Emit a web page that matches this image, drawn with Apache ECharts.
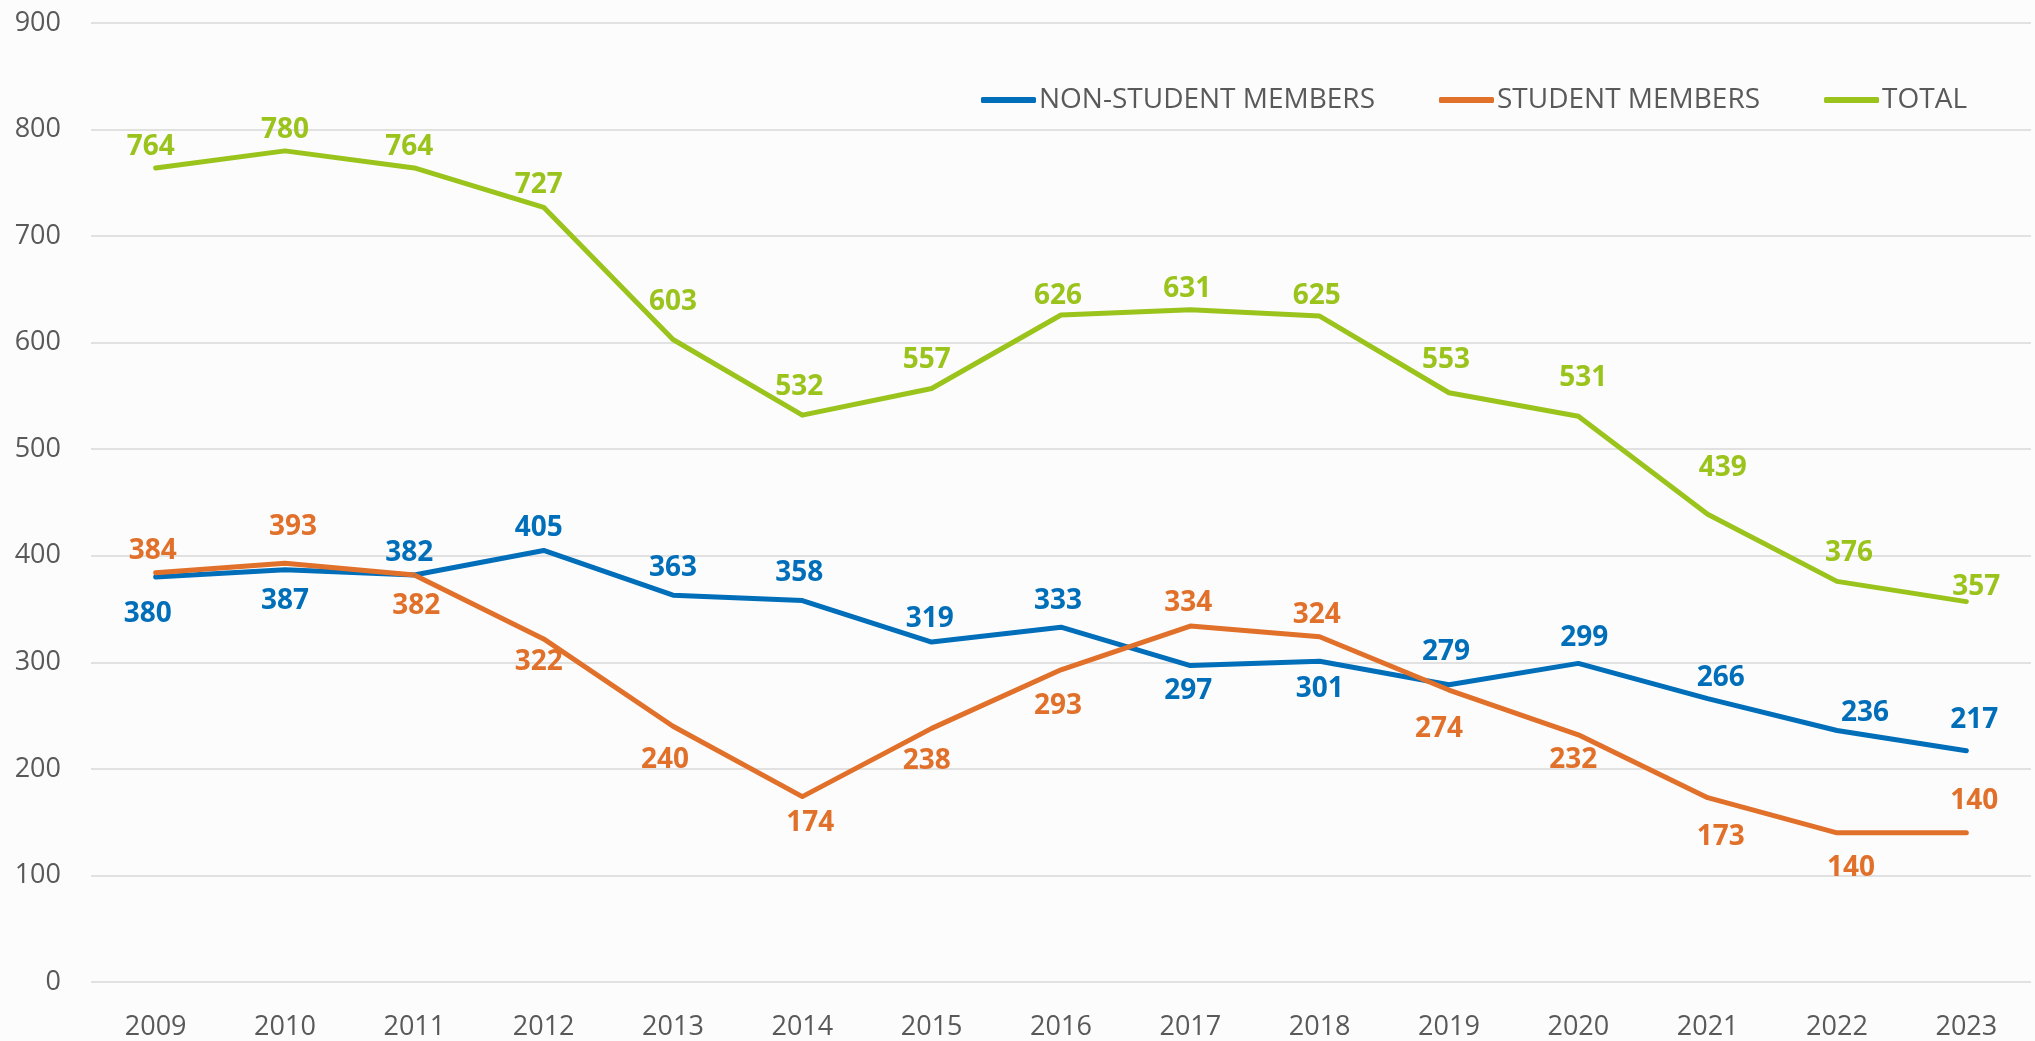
<!DOCTYPE html>
<html>
<head>
<meta charset="utf-8">
<script src="https://cdn.jsdelivr.net/npm/echarts@6/dist/echarts.min.js"></script>
<style>
  html, body { margin: 0; padding: 0; background: #fcfcfc; }
  #chart { width: 2035px; height: 1041px; }
</style>
</head>
<body>
<div id="chart"></div>
<script>
const years = ['2009', '2010', '2011', '2012', '2013', '2014', '2015', '2016', '2017', '2018', '2019', '2020', '2021', '2022', '2023']
const nonStudent = [380, 387, 382, 405, 363, 358, 319, 333, 297, 301, 279, 299, 266, 236, 217]
const student = [384, 393, 382, 322, 240, 174, 238, 293, 334, 324, 274, 232, 173, 140, 140]
const total = [764, 780, 764, 727, 603, 532, 557, 626, 631, 625, 553, 531, 439, 376, 357]

// label nudges (px from the point), placed by hand in the original
const nonStudentLabelOffsets = [[-8, 37], [0, 31], [-5, -22], [-5, -22], [0, -27], [-3, -27], [-2, -23], [-3, -26], [-2, 26], [0, 28], [-3, -33], [6, -25], [13, -21], [28, -17], [8, -31]]
const studentLabelOffsets = [[-3, -22], [8, -36], [2, 31], [-5, 23], [-8, 34], [8, 26], [-5, 33], [-3, 36], [-2, -23], [-3, -22], [-10, 39], [-5, 25], [13, 39], [14, 35], [8, -32]]
const totalLabelOffsets = [[-5, -21], [0, -21], [-5, -21], [-5, -22], [0, -37], [-3, -28], [-5, -28], [-3, -19], [-3, -21], [-3, -20], [-3, -33], [5, -38], [15, -46], [12, -28], [10, -15]]

const font = '"Open Sans", "DejaVu Sans", sans-serif'

function makeSeries (name, values, offsets, color) {
  return {
    name: name,
    type: 'line',
    data: values.map((v, i) => ({
      value: v,
      label: { offset: offsets[i] }
    })),
    symbol: 'circle',
    symbolSize: 2,
    itemStyle: { color: color },
    lineStyle: { color: color, width: 5, cap: 'round', join: 'round' },
    label: {
      show: true,
      position: 'inside',
      align: 'center',
      verticalAlign: 'middle',
      color: color,
      fontFamily: font,
      fontWeight: 'bold',
      fontSize: 28
    },
    emphasis: { disabled: true },
    animation: false
  }
}

const chart = echarts.init(document.getElementById('chart'))
chart.setOption({
  backgroundColor: '#fcfcfc',
  animation: false,
  grid: {
    left: 91,
    right: 4,
    top: 23,
    bottom: 58
  },
  legend: {
    left: 976,
    top: 81,
    itemWidth: 55,
    itemHeight: 6,
    itemGap: 64,
    icon: 'roundRect',
    textStyle: {
      color: '#595959',
      fontFamily: font,
      fontSize: 28,
      padding: [0, 0, 0, -2]
    },
    data: ['NON-STUDENT MEMBERS', 'STUDENT MEMBERS', 'TOTAL']
  },
  xAxis: {
    type: 'category',
    data: years,
    boundaryGap: true,
    axisLine: { show: false },
    axisTick: { show: false },
    axisLabel: {
      color: '#595959',
      fontFamily: font,
      fontSize: 27,
      margin: 32
    }
  },
  yAxis: {
    type: 'value',
    min: 0,
    max: 900,
    interval: 100,
    axisLine: { show: false },
    axisTick: { show: false },
    splitLine: { lineStyle: { color: '#d9d9d9', width: 1.5 } },
    axisLabel: {
      color: '#595959',
      fontFamily: font,
      fontSize: 27,
      margin: 30
    }
  },
  series: [
    makeSeries('NON-STUDENT MEMBERS', nonStudent, nonStudentLabelOffsets, '#006EB9'),
    makeSeries('STUDENT MEMBERS', student, studentLabelOffsets, '#E0702A'),
    makeSeries('TOTAL', total, totalLabelOffsets, '#9AC31C')
  ]
})
</script>
</body>
</html>
